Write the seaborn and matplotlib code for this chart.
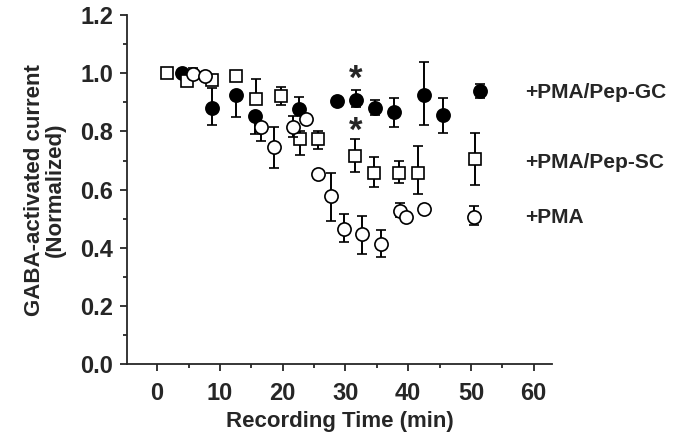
import matplotlib
matplotlib.use("Agg")
import matplotlib.pyplot as plt
from matplotlib.ticker import MultipleLocator, FormatStrFormatter
import numpy as np
import seaborn as sns

# +PMA/Pep-GC (filled circles)
gc_time = [3.9, 8.7, 12.55, 15.6, 22.6, 28.6, 31.7, 34.7, 37.7, 42.5, 45.6, 51.5]
gc_mean = [1.0, 0.879, 0.925, 0.854, 0.878, 0.905, 0.909, 0.880, 0.867, 0.926, 0.855, 0.939]
gc_lo = [0, 0.057, 0.075, 0.064, 0, 0, 0.025, 0.025, 0.051, 0.104, 0.06, 0.024]
gc_hi = [0, 0.069, 0, 0, 0.042, 0, 0.032, 0.028, 0.048, 0.114, 0.06, 0.025]

# +PMA/Pep-SC (open squares)
sc_time = [1.6, 4.7, 8.7, 12.55, 15.7, 19.7, 22.7, 25.6, 31.5, 34.6, 38.5, 41.5, 50.6]
sc_mean = [1.0, 0.973, 0.976, 0.99, 0.91, 0.923, 0.773, 0.773, 0.716, 0.656, 0.656, 0.656, 0.705]
sc_lo = [0, 0.01, 0, 0.01, 0, 0.033, 0.053, 0.033, 0.057, 0.048, 0.033, 0.072, 0.089]
sc_hi = [0, 0.01, 0, 0.01, 0.07, 0.029, 0.027, 0.027, 0.058, 0.057, 0.042, 0.093, 0.089]

# +PMA (open circles)
pma_time = [5.7, 7.6, 16.6, 18.6, 21.6, 23.7, 25.6, 27.65, 29.7, 32.7, 35.7, 38.7, 39.6, 42.5, 50.5]
pma_mean = [0.996, 0.991, 0.816, 0.745, 0.816, 0.843, 0.653, 0.579, 0.464, 0.446, 0.414, 0.526, 0.507, 0.533, 0.507]
pma_lo = [0, 0, 0.049, 0.071, 0.035, 0, 0, 0.086, 0.044, 0.068, 0.045, 0.02, 0, 0.01, 0.03]
pma_hi = [0.021, 0.015, 0, 0.071, 0.037, 0, 0, 0.079, 0.054, 0.065, 0.047, 0.029, 0, 0.01, 0.037]

series_labels = ["+PMA/Pep-GC", "+PMA/Pep-SC", "+PMA"]
label_y = [0.935, 0.695, 0.505]
star_time = 31.7
star_y = [0.98, 0.80]

sns.set_style("ticks")
plt.rcParams['font.family'] = ['Liberation Sans', 'DejaVu Sans']
plt.rcParams['font.weight'] = 'bold'

fig = plt.figure(figsize=(6.83, 4.32), dpi=100)
ax = fig.add_axes([0.186, 0.157, 0.622, 0.808])

err_kw = dict(ecolor='black', elinewidth=1.4, capsize=3.5, capthick=1.4, linestyle='none')

ax.errorbar(gc_time, gc_mean, yerr=[gc_lo, gc_hi], fmt='o', ms=9.5,
            mfc='black', mec='black', mew=1.2, zorder=3, **err_kw)
ax.errorbar(sc_time, sc_mean, yerr=[sc_lo, sc_hi], fmt='s', ms=8,
            mfc='white', mec='black', mew=1.2, zorder=4, **err_kw)
ax.errorbar(pma_time, pma_mean, yerr=[pma_lo, pma_hi], fmt='o', ms=9.5,
            mfc='white', mec='black', mew=1.2, zorder=5, **err_kw)

for yy in star_y:
    ax.text(star_time, yy, '*', ha='center', va='center', fontsize=25, fontweight='bold')

# labels next to the series
for lab, yy in zip(series_labels, label_y):
    ax.text(58.6, yy, lab, ha='left', va='center', fontsize=15,
            fontweight='bold', clip_on=False)

ax.set_xlim(-4.8, 62.9)
ax.set_ylim(0, 1.2)
ax.set_xticks(np.arange(0, 61, 10))
ax.xaxis.set_minor_locator(MultipleLocator(5))
ax.yaxis.set_major_locator(MultipleLocator(0.2))
ax.yaxis.set_minor_locator(MultipleLocator(0.1))
ax.yaxis.set_major_formatter(FormatStrFormatter('%.1f'))

ax.tick_params(which='major', length=5, width=1.3, labelsize=17, direction='out', pad=5)
ax.tick_params(axis='x', which='major', pad=8)
ax.tick_params(which='minor', length=3, width=1.3, direction='out')
for s in ['left', 'bottom']:
    ax.spines[s].set_linewidth(1.3)
sns.despine(ax=ax)

ax.set_xlabel('Recording Time (min)', fontsize=16, fontweight='bold', labelpad=4)
ax.set_ylabel('GABA-activated current\n(Normalized)', fontsize=16, fontweight='bold',
              labelpad=10, linespacing=1.0)

fig.savefig('out.png', dpi=100)
